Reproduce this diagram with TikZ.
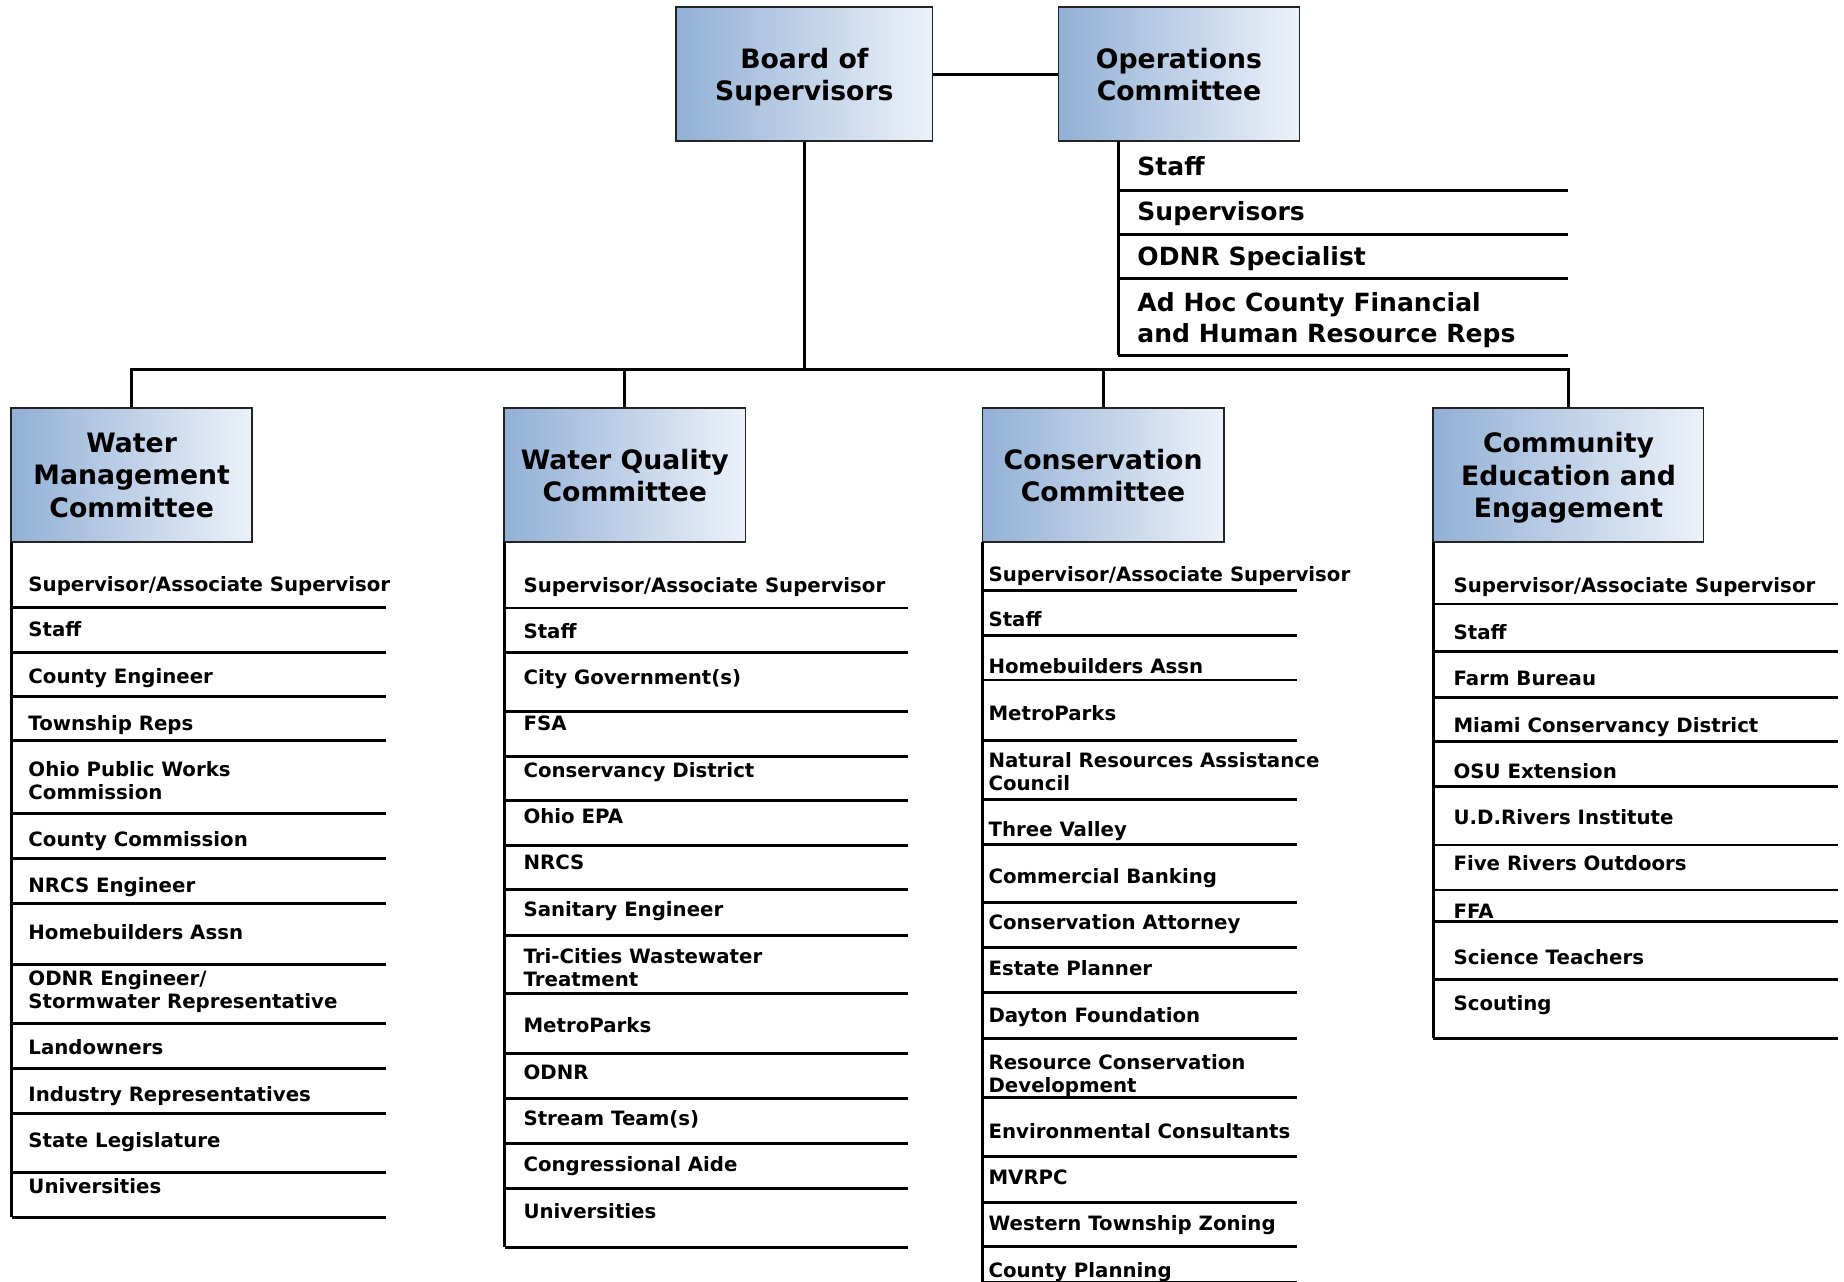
\documentclass[tikz,border=0pt]{standalone}
\usepackage{fontspec}
\setmainfont{DejaVu Sans}
\definecolor{boxL}{RGB}{146,176,213}
\definecolor{boxR}{RGB}{237,242,250}
\definecolor{edgegray}{RGB}{35,35,35}
\newcommand\twolines[2]{\vtop{\hbox{#1}\hbox{#2}}}
\begin{document}
\begin{tikzpicture}[x=1pt,y=-1pt,
  conn/.style={line width=2.5pt, draw=black},
  rule/.style={line width=2.5pt, draw=black},
  hbox/.style={draw=edgegray, line width=1.3pt, left color=boxL, right color=boxR, align=center,
    font=\fontsize{22.7}{27.5}\selectfont\bfseries, inner sep=0pt, minimum height=114pt, text depth=0pt},
  litem/.style={anchor=base west, inner sep=0pt, font=\fontsize{16.8}{19.5}\selectfont\bfseries, yshift=-6.4pt},
  oitem/.style={anchor=base west, inner sep=0pt, font=\fontsize{21.3}{26.5}\selectfont\bfseries, yshift=-7.4pt},
]
\fill[white] (0,0) rectangle (1568,1090);
\useasboundingbox (0,0) rectangle (1568,1090);

% boxes
\node[hbox, minimum width=218pt] (bos) at (684,63) {Board of\\Supervisors};
\node[hbox, minimum width=205pt] (ops) at (1002.5,63) {Operations\\Committee};
\node[hbox, minimum width=205pt] (wm) at (112,404) {Water\\Management\\Committee};
\node[hbox, minimum width=205.5pt] (wq) at (531.3,404) {Water Quality\\Committee};
\node[hbox, minimum width=205.5pt] (cons) at (938,404) {Conservation\\Committee};
\node[hbox, minimum width=230pt] (cee) at (1333.7,404) {Community\\Education and\\Engagement};

% connectors
\coordinate (bus) at (684,314);
\draw[conn] (bos.east) -- (ops.west);
\draw[conn] (bos.south) -- (bus);
\draw[conn] (wm.north) |- (bus);
\draw[conn] (cee.north) |- (bus);
\draw[conn] (wq.north) -- (wq.north |- bus);
\draw[conn] (cons.north) -- (cons.north |- bus);

% operations list
\draw[rule] (951,120) -- (951,301.9);
\foreach \y in {161.6,199.3,236.7,301.9} \draw[rule] (951,\y) -- (1333.7,\y);
\node[oitem] (op1) at (967,142) {Staff};
\node[oitem] (op2) at (967,180) {Supervisors};
\node[oitem] (op3) at (967,218.3) {ODNR Specialist};
\node[oitem] (op4) at (967,257.5) {\fontsize{21.3}{26.5}\selectfont\twolines{Ad Hoc County Financial}{and Human Resource Reps}};

% water management list
\draw[rule] (10,461) -- (10,1035.2);
\foreach \y in {516.3,554.6,592.4,629.8,692,730.2,768.1,820,870.2,908.7,946.7,996.9,1035.2} \draw[rule] (10,\y) -- (328.5,\y);
\node[litem] (wm1) at (24,496.6) {Supervisor/Associate Supervisor};
\node[litem] (wm2) at (24,535.2) {Staff};
\node[litem] (wm3) at (24,574.8) {County Engineer};
\node[litem] (wm4) at (24,615) {Township Reps};
\node[litem] (wm5) at (24,654.2) {\twolines{Ohio Public Works}{Commission}};
\node[litem] (wm6) at (24,713.7) {County Commission};
\node[litem] (wm7) at (24,752.6) {NRCS Engineer};
\node[litem] (wm8) at (24,792.3) {Homebuilders Assn};
\node[litem] (wm9) at (24,831.6) {\twolines{ODNR Engineer/}{Stormwater Representative}};
\node[litem] (wm10) at (24,890.3) {Landowners};
\node[litem] (wm11) at (24,930.3) {Industry Representatives};
\node[litem] (wm12) at (24,969.4) {State Legislature};
\node[litem] (wm13) at (24,1008.5) {Universities};

% water quality list
\draw[rule] (429,461) -- (429,1060.7);
\foreach \y in {517,555,604.9,642.9,680.9,718.8,756.2,795.1,845,895.7,934.2,972.2,1010.5,1060.7} \draw[rule] (429,\y) -- (772.4,\y);
\node[litem] (wq1) at (445,497.5) {Supervisor/Associate Supervisor};
\node[litem] (wq2) at (445,536.3) {Staff};
\node[litem] (wq3) at (445,576) {City Government(s)};
\node[litem] (wq4) at (445,615) {FSA};
\node[litem] (wq5) at (445,654.8) {Conservancy District};
\node[litem] (wq6) at (445,693.9) {Ohio EPA};
\node[litem] (wq7) at (445,733) {NRCS};
\node[litem] (wq8) at (445,773.3) {Sanitary Engineer};
\node[litem] (wq9) at (445,813) {\twolines{Tri-Cities Wastewater}{Treatment}};
\node[litem] (wq10) at (445,871.6) {MetroParks};
\node[litem] (wq11) at (445,911.3) {ODNR};
\node[litem] (wq12) at (445,951) {Stream Team(s)};
\node[litem] (wq13) at (445,989.8) {Congressional Aide};
\node[litem] (wq14) at (445,1029.5) {Universities};

% conservation list
\draw[rule] (835.6,461) -- (835.6,1090);
\foreach \y in {502.3,540.3,578.2,629.8,679.7,717.7,767.6,805.9,843.8,883,933.4,983.6,1022.4,1060.1} \draw[rule] (835.6,\y) -- (1103.2,\y);
\draw[line width=1pt] (835.6,1089.5) -- (1103.2,1089.5);
\node[litem] (cs1) at (840.4,488.1) {Supervisor/Associate Supervisor};
\node[litem] (cs2) at (840.4,526.7) {Staff};
\node[litem] (cs3) at (840.4,566.3) {Homebuilders Assn};
\node[litem] (cs4) at (840.4,606.6) {MetroParks};
\node[litem] (cs5) at (840.4,646.3) {\twolines{Natural Resources Assistance}{Council}};
\node[litem] (cs6) at (840.4,705) {Three Valley};
\node[litem] (cs7) at (840.4,744.9) {Commercial Banking};
\node[litem] (cs8) at (840.4,784.3) {Conservation Attorney};
\node[litem] (cs9) at (840.4,823.4) {Estate Planner};
\node[litem] (cs10) at (840.4,863.1) {Dayton Foundation};
\node[litem] (cs11) at (840.4,902.8) {\twolines{Resource Conservation}{Development}};
\node[litem] (cs12) at (840.4,961.5) {Environmental Consultants};
\node[litem] (cs13) at (840.4,1000.6) {MVRPC};
\node[litem] (cs14) at (840.4,1040.2) {Western Township Zoning};
\node[litem] (cs15) at (840.4,1080) {County Planning};

% community education list
\draw[rule] (1218.8,461) -- (1218.8,883);
\foreach \y in {513.6,554.2,593.3,630.7,668.9,718.5,756.8,783.2,832.5,883} \draw[rule] (1218.8,\y) -- (1563,\y);
\node[litem] (ce1) at (1235.8,497.5) {Supervisor/Associate Supervisor};
\node[litem] (ce2) at (1235.8,537.1) {Staff};
\node[litem] (ce3) at (1235.8,576.8) {Farm Bureau};
\node[litem] (ce4) at (1235.8,616.5) {Miami Conservancy District};
\node[litem] (ce5) at (1235.8,655.3) {OSU Extension};
\node[litem] (ce6) at (1235.8,694.5) {U.D.Rivers Institute};
\node[litem] (ce7) at (1235.8,734.1) {Five Rivers Outdoors};
\node[litem] (ce8) at (1235.8,774.4) {FFA};
\node[litem] (ce9) at (1235.8,813.5) {Science Teachers};
\node[litem] (ce10) at (1235.8,853.2) {Scouting};
\end{tikzpicture}
\end{document}
